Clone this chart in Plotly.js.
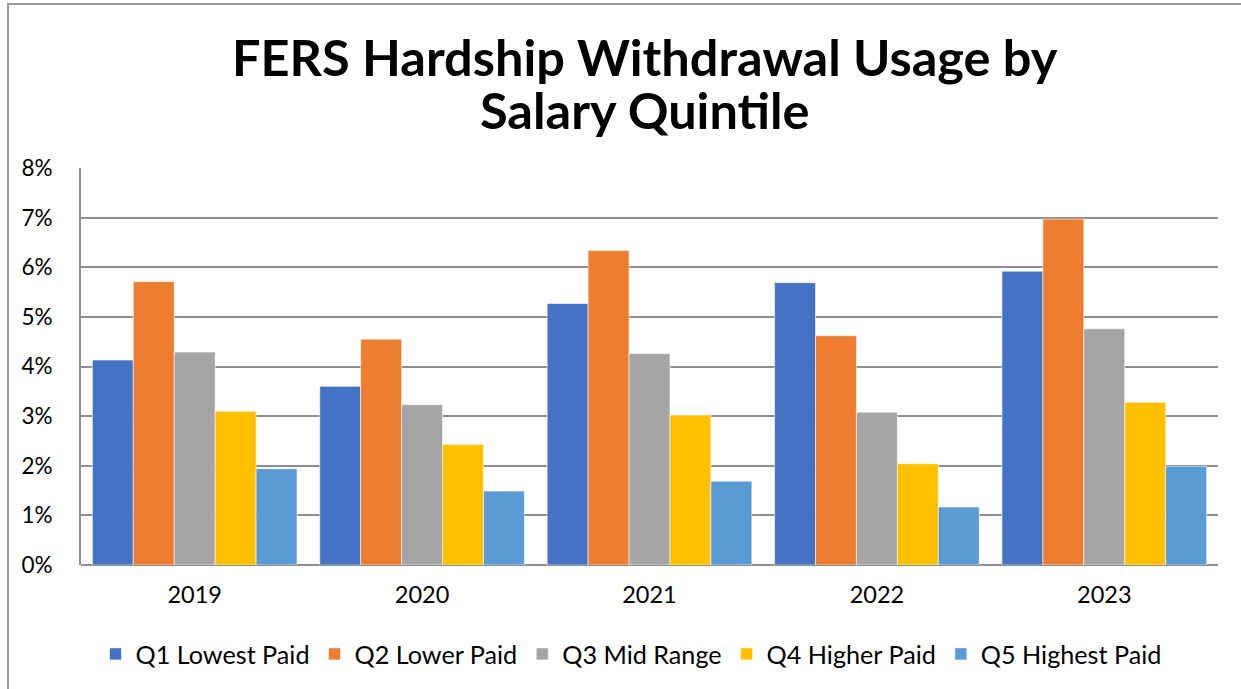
<!DOCTYPE html>
<html>
<head>
<meta charset="utf-8">
<script src="https://cdn.plot.ly/plotly-3.0.1.min.js"></script>
<style>
  html, body { margin: 0; padding: 0; background: #fff; }
  #chart { width: 1241px; height: 689px; }
</style>
</head>
<body>
<div id="chart"></div>
<script>
const years = ['2019', '2020', '2021', '2022', '2023'];
const q1LowestPaid  = [4.13, 3.60, 5.27, 5.69, 5.92];
const q2LowerPaid   = [5.71, 4.55, 6.34, 4.62, 6.97];
const q3MidRange    = [4.29, 3.23, 4.26, 3.08, 4.76];
const q4HigherPaid  = [3.10, 2.43, 3.02, 2.04, 3.28];
const q5HighestPaid = [1.94, 1.49, 1.69, 1.17, 1.99];
const seriesNames = ['Q1 Lowest Paid', 'Q2 Lower Paid', 'Q3 Mid Range', 'Q4 Higher Paid', 'Q5 Highest Paid'];
const seriesColors = ['#4472C4', '#ED7D31', '#A5A5A5', '#FFC000', '#5B9BD5'];
const yTickVals = [0, 1, 2, 3, 4, 5, 6, 7, 8];
const yTickText = ['0%', '1%', '2%', '3%', '4%', '5%', '6%', '7%', '8%'];
const titleLines = ['FERS Hardship Withdrawal Usage by', 'Salary Quintile'];

const allSeries = [q1LowestPaid, q2LowerPaid, q3MidRange, q4HigherPaid, q5HighestPaid];
const FONT = 'Lato, "Open Sans", sans-serif';

const traces = allSeries.map((vals, i) => ({
  type: 'bar',
  name: seriesNames[i],
  x: years,
  y: vals,
  marker: { color: seriesColors[i], line: { color: 'rgba(255,255,255,0.7)', width: 0.8 } },
  hoverinfo: 'x+y+name'
}));

// plot area geometry (px) used only for placing decorations
const L = 81, R = 23, T = 168, B = 124, W = 1241, H = 689;
const pw = W - L - R, ph = H - T - B;
const fx = px => (px - L) / pw;
const fy = py => (H - B - py) / ph;

const layout = {
  width: W, height: H,
  margin: { l: L, r: R, t: T, b: B },
  paper_bgcolor: '#ffffff',
  plot_bgcolor: '#ffffff',
  font: { family: FONT, color: '#000', size: 22 },
  barmode: 'group',
  bargap: 0.1,
  bargroupgap: 0,
  xaxis: {
    type: 'category',
    showgrid: false,
    showline: false,
    ticks: '',
    ticklabelstandoff: 13,
    tickfont: { family: FONT, size: 23.5, color: '#000' }
  },
  yaxis: {
    range: [0, 8],
    tickvals: yTickVals,
    ticktext: yTickText,
    showgrid: true,
    gridcolor: '#8f8f8f',
    gridwidth: 2,
    zeroline: true,
    zerolinecolor: '#8f8f8f',
    zerolinewidth: 2,
    showline: true,
    linecolor: '#8f8f8f',
    linewidth: 2,
    ticks: '',
    ticklabelstandoff: 22,
    tickfont: { family: FONT, size: 22.5, color: '#000' },
    fixedrange: true
  },
  showlegend: true,
  legend: {
    orientation: 'h',
    x: fx(631), xanchor: 'center',
    y: fy(654), yanchor: 'middle',
    font: { family: FONT, size: 25.2, color: '#000' },
    itemclick: false,
    traceorder: 'normal'
  },
  annotations: [
    { text: '<b>' + titleLines[0] + '</b>', xref: 'paper', yref: 'paper',
      x: fx(645), y: fy(57), xanchor: 'center', yanchor: 'middle', showarrow: false,
      font: { family: FONT, size: 50.5, color: '#000' } },
    { text: '<b>' + titleLines[1] + '</b>', xref: 'paper', yref: 'paper',
      x: fx(645), y: fy(109), xanchor: 'center', yanchor: 'middle', showarrow: false,
      font: { family: FONT, size: 50.5, color: '#000' } }
  ],
  shapes: [
    { type: 'rect', xref: 'paper', yref: 'paper', x0: fx(8), x1: fx(1300), y0: fy(720), y1: fy(4),
      line: { color: '#9a9a9a', width: 2 }, fillcolor: 'rgba(0,0,0,0)', layer: 'below' }
  ]
};

Plotly.newPlot('chart', traces, layout, { displayModeBar: false, staticPlot: true });
</script>
</body>
</html>
